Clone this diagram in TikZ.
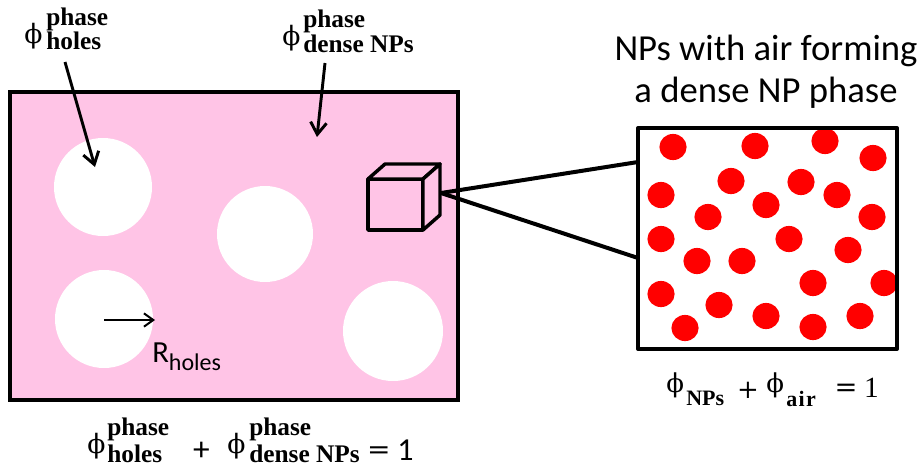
\documentclass[tikz,border=0pt]{standalone}
\usepackage{fontspec}
\newfontfamily\calfont{Carlito}
\newfontfamily\serfont{Liberation Serif}
\newfontfamily\phifont{DejaVu Serif}
\usetikzlibrary{arrows.meta}
\definecolor{pinkfill}{RGB}{255,196,230}
\definecolor{npred}{RGB}{255,0,0}
\tikzset{
  thickline/.style={line width=3pt},
  hole/.style={fill=white},
  npdot/.style={fill=npred},
  pointer/.style={line width=2.2pt,-{Straight Barb[length=9pt,width=12pt,line width=2.2pt]}},
  cubeface/.style={fill=pinkfill,draw=black,line width=2.6pt,line join=round},
  txt/.style={inner sep=0pt,anchor=base west},
  phibig/.style={txt,font=\phifont\fontsize{20}{20}\selectfont},
  phismall/.style={txt,font=\phifont\fontsize{19.5}{19.5}\selectfont},
  scriptbig/.style={txt,font=\serfont\bfseries\fontsize{19}{19}\selectfont},
  scriptsmall/.style={txt,font=\serfont\bfseries\fontsize{16.5}{16.5}\selectfont},
}
\begin{document}
\begin{tikzpicture}[x=0.75pt,y=-0.75pt]
\useasboundingbox (0,0) rectangle (923,472);
% main phase
\filldraw[fill=pinkfill,draw=black,thickline] (10,92) rectangle (458,400);
\fill[hole] (103,187) circle (36.75pt);
\fill[hole] (265,234) circle (36pt);
\fill[hole] (104,319) circle (36.75pt);
\fill[hole] (393,331) circle (37.5pt);
% cube
\draw[cubeface] (368,179) rectangle (423,230);
\draw[cubeface] (368,179)--(385,164)--(440,164)--(423,179)--cycle;
\draw[cubeface] (423,179)--(440,164)--(440,215)--(423,230)--cycle;
\coordinate (cubeR) at (441,193);
\coordinate (boxTop) at (638,162);
\coordinate (boxBot) at (638,258);
\draw[thickline,line cap=round] (cubeR) -- (boxTop);
\draw[thickline,line cap=round] (cubeR) -- (boxBot);
% NP box
\begin{scope}
\clip (638,128) rectangle (897,349);
\foreach \x/\y in {673/147,755/146,825/141,873/158,731/181,801/182,661/195,837/195,
  766/205,708/217,872/217,661/239,789/239,848/250,697/261,742/261,813/283,884/283,
  661/294,719/305,766/316,860/316,685/328,813/327}
  \fill[npdot] (\x,\y) ellipse [x radius=10.2pt, y radius=9.8pt];
\end{scope}
\draw[thickline,line join=round] (638,128) rectangle (897,349);
% title
\node[font=\calfont\fontsize{27.5}{31.5}\selectfont,align=center] (title) at (766,72) {NPs with air forming\\a dense NP phase};
% top labels
\node[phibig] (tlphi) at (24,43) {ϕ};
\node[scriptbig] (tlsup) at (46,25) {phase};
\node[scriptbig] (tlsub) at (46,49) {holes};
\node[phibig] (trphi) at (282,45) {ϕ};
\node[scriptbig] (trsup) at (303,27) {phase};
\node[scriptbig] (trsub) at (303,52) {dense NPs};
\coordinate (aholesS) at (65,62);
\coordinate (aholesE) at (95,167);
\coordinate (adenseS) at (325,63);
\coordinate (adenseE) at (317,137);
\draw[pointer] (aholesS) -- (aholesE);
\draw[pointer] (adenseS) -- (adenseE);
% radius
\coordinate (rS) at (104,320);
\coordinate (rE) at (155,320);
\draw[line width=1.5pt,-{Straight Barb[length=7pt,width=10pt,line width=1.5pt]}] (rS) -- (rE);
\node[txt,font=\calfont\fontsize{23}{23}\selectfont] (rlabel) at (152,362) {R\raisebox{-6pt}{\fontsize{18}{18}\selectfont holes}};
% bottom-left equation
\node[phibig] (blphiA) at (87,453) {ϕ};
\node[scriptbig] (blsupA) at (107,435) {phase};
\node[scriptbig] (blsubA) at (107,462) {holes};
\node[inner sep=0pt,anchor=base,font=\calfont\fontsize{25}{25}\selectfont] (blplus) at (201.5,460) {+};
\node[phibig] (blphiB) at (227,453) {ϕ};
\node[scriptbig] (blsupB) at (249,435) {phase};
\node[scriptbig] (blsubB) at (249,462) {dense NPs};
\node[inner sep=0pt,anchor=base,font=\calfont\fontsize{24}{24}\selectfont] (bleq) at (379,460) {\scalebox{1.35}[1]{=}};
\node[inner sep=0pt,anchor=base,font=\calfont\fontsize{24}{24}\selectfont] (blone) at (405.5,460) {1};
% bottom-right equation
\node[phismall] (brphiA) at (666,392) {ϕ};
\node[scriptsmall] (brsubA) at (686,405) {NPs};
\node[inner sep=0pt,font=\phifont\fontsize{19.5}{19.5}\selectfont] (brplus) at (748,390) {+};
\node[phismall] (brphiB) at (766,392) {ϕ};
\node[scriptsmall] (brsubB) at (786,406) {\addfontfeatures{LetterSpace=6}air};
\node[inner sep=0pt,font=\phifont\fontsize{20.5}{20.5}\selectfont] (breq) at (846,390) {=};
\node[inner sep=0pt,anchor=base,font=\serfont\fontsize{22}{22}\selectfont] (brone) at (871.5,397) {1};
\end{tikzpicture}
\end{document}
